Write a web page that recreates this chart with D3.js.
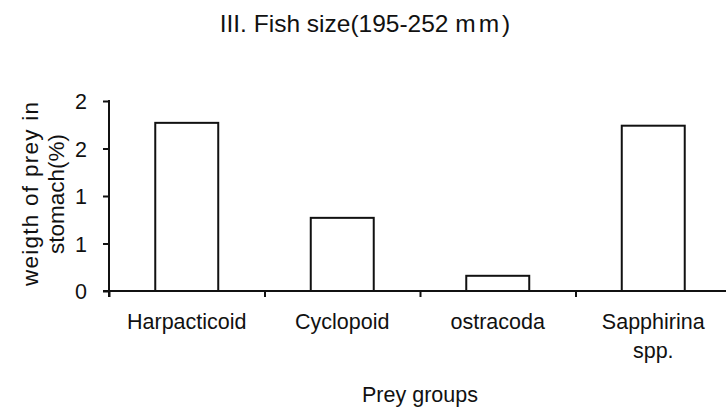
<!DOCTYPE html>
<html>
<head>
<meta charset="utf-8">
<script src="https://cdn.jsdelivr.net/npm/d3@7"></script>
<style>
  html, body { margin: 0; padding: 0; background: #fff; }
  svg { display: block; }
  text { font-family: "Liberation Sans", Arial, sans-serif; fill: #111; }
</style>
</head>
<body>
<div id="chart"></div>
<script>
// ── data ──────────────────────────────────────────────
const categories = ["Harpacticoid", "Cyclopoid", "ostracoda", "Sapphirina spp."];
const weights    = [1.77, 0.77, 0.16, 1.74];
const yTicks      = [0, 0.5, 1, 1.5, 2];
const yTickLabels = ["0", "1", "1", "2", "2"];

(function () {
  const W = 726, H = 409;
  const X0 = 109, X1 = 731;        // plot area (right edge runs past the frame)
  const Y0 = 291, Y1 = 101;
  const FS = 21.5;

  const svg = d3.select("#chart").append("svg")
    .attr("width", W).attr("height", H);

  const x = d3.scaleBand().domain(categories).range([X0, X1])
    .paddingInner(0.595).paddingOuter(0.2975);
  const xEdges = d3.scaleLinear().domain([0, categories.length]).range([X0, X1]);
  const y = d3.scaleLinear().domain([0, 2]).range([Y0, Y1]);

  // Title
  const title = svg.append("text")
    .attr("x", 365).attr("y", 32)
    .attr("text-anchor", "middle")
    .attr("font-size", 24.5);
  title.append("tspan").text("III. Fish size(195-252 ");
  title.append("tspan").attr("letter-spacing", 3).text("mm");
  title.append("tspan").text(")");

  // Bars
  svg.append("g").selectAll("rect")
    .data(categories)
    .join("rect")
    .attr("x", d => x(d))
    .attr("width", x.bandwidth())
    .attr("y", (d, i) => y(weights[i]))
    .attr("height", (d, i) => y(0) - y(weights[i]))
    .attr("fill", "#fff")
    .attr("stroke", "#111")
    .attr("stroke-width", 2);

  // Y axis
  const yAxis = svg.append("g")
    .attr("transform", `translate(${X0},0)`)
    .call(d3.axisLeft(y).tickValues(yTicks).tickSize(6).tickPadding(16)
      .tickFormat((d, i) => yTickLabels[i]));
  yAxis.select(".domain").remove();
  yAxis.selectAll(".tick line").attr("stroke", "#111").attr("stroke-width", 2);
  yAxis.selectAll(".tick text")
    .attr("dy", "0.36em")
    .attr("font-size", FS)
    .attr("font-family", null)
    .attr("fill", "#111");
  yAxis.append("line")
    .attr("x1", 0).attr("x2", 0)
    .attr("y1", Y1 - 1).attr("y2", Y0 + 6)
    .attr("stroke", "#111").attr("stroke-width", 2);

  // X axis (ticks at category boundaries)
  const xAxis = svg.append("g")
    .attr("transform", `translate(0,${Y0})`)
    .call(d3.axisBottom(xEdges).ticks(categories.length).tickSize(6).tickFormat(""));
  xAxis.select(".domain").remove();
  xAxis.selectAll(".tick line").attr("stroke", "#111").attr("stroke-width", 2);
  xAxis.append("line")
    .attr("x1", X0 - 6).attr("x2", X1)
    .attr("stroke", "#111").attr("stroke-width", 2);

  // Category labels (wrapped on spaces)
  const catG = svg.append("g");
  categories.forEach(c => {
    c.split(" ").forEach((line, j) => {
      catG.append("text")
        .attr("x", x(c) + x.bandwidth() / 2)
        .attr("y", 329 + j * 29)
        .attr("text-anchor", "middle")
        .attr("font-size", FS)
        .text(line);
    });
  });

  // Axis titles
  svg.append("text")
    .attr("x", (X0 + X1) / 2).attr("y", 402)
    .attr("text-anchor", "middle")
    .attr("font-size", FS)
    .text("Prey groups");

  const yl = svg.append("g");
  [["weigth of prey in", 38, 184], ["stomach(%)", 64, null]].forEach(([str, bx, len]) => {
    const t = yl.append("text")
      .attr("transform", `translate(${bx},194) rotate(-90)`)
      .attr("text-anchor", "middle")
      .attr("font-size", 22.5)
      .text(str);
    if (len) t.attr("textLength", len).attr("lengthAdjust", "spacing");
  });
})();
</script>
</body>
</html>
